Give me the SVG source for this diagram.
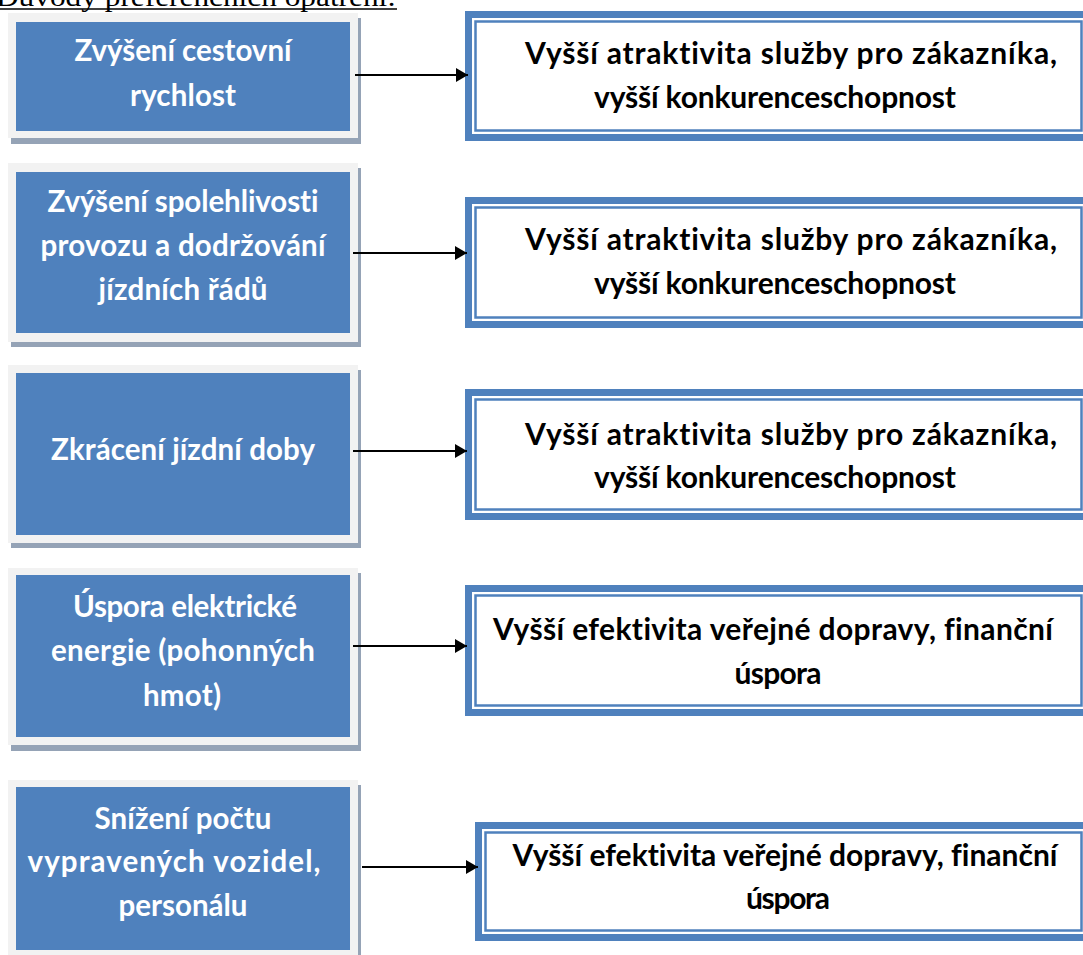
<svg xmlns="http://www.w3.org/2000/svg" width="1083" height="955" viewBox="0 0 1083 955">
<defs>
<style>
.shadow{fill:#95a3b6}
.frame{fill:#f2f2f2}
.blue{fill:#4f81bd}
.lt{font-family:Lato,"Open Sans",sans-serif;font-weight:700;font-size:29.5px;fill:#ffffff;text-anchor:middle;font-variant-ligatures:none}
.rt{font-family:Lato,"Open Sans",sans-serif;font-weight:700;font-size:30px;fill:#000000;text-anchor:middle;font-variant-ligatures:none}
.ro{fill:#ffffff;stroke:#4f81bd;stroke-width:7}
.ri{fill:none;stroke:#4f81bd;stroke-width:2.5}
.conn{stroke:#000;stroke-width:2.2;fill:none}
.title{font-family:"Liberation Serif",serif;font-size:27px;fill:#000}
</style>
<marker id="ah" markerWidth="12" markerHeight="14" refX="12" refY="7" orient="auto" markerUnits="userSpaceOnUse">
<path d="M0,0 L12,7 L0,14 Z" fill="#000"/>
</marker>
</defs>
<rect width="1083" height="955" fill="#fff"/>
<g id="title">
<text class="title" x="-4" y="6" textLength="400" lengthAdjust="spacingAndGlyphs">Důvody preferenčních opatření:</text>
<line x1="0" y1="9" x2="397" y2="9" stroke="#000" stroke-width="1.5"/>
</g>
<g id="cause1">
<rect class="shadow" x="11" y="18" width="350" height="126"/>
<rect class="frame" x="8" y="13" width="350" height="125"/>
<rect class="blue" x="16" y="22" width="334" height="109"/>
<text class="lt" x="183" y="61" textLength="217">Zvýšení cestovní</text>
<text class="lt" x="183" y="106" textLength="106">rychlost</text>
</g>
<g id="cause2">
<rect class="shadow" x="11" y="168" width="350" height="179"/>
<rect class="frame" x="8" y="163" width="350" height="179"/>
<rect class="blue" x="16" y="172" width="334" height="161"/>
<text class="lt" x="183" y="212" textLength="271">Zvýšení spolehlivosti</text>
<text class="lt" x="183" y="256" textLength="285">provozu a dodržování</text>
<text class="lt" x="183" y="300" textLength="169">jízdních řádů</text>
</g>
<g id="cause3">
<rect class="shadow" x="11" y="370" width="350" height="178"/>
<rect class="frame" x="8" y="365" width="350" height="178"/>
<rect class="blue" x="16" y="373" width="334" height="162"/>
<text class="lt" x="183" y="460" textLength="264">Zkrácení jízdní doby</text>
</g>
<g id="cause4">
<rect class="shadow" x="11" y="573" width="350" height="178"/>
<rect class="frame" x="8" y="568" width="350" height="177"/>
<rect class="blue" x="16" y="575" width="334" height="162"/>
<text class="lt" x="185" y="617" textLength="224">Úspora elektrické</text>
<text class="lt" x="183" y="661" textLength="264">energie (pohonných</text>
<text class="lt" x="182" y="706" textLength="78">hmot)</text>
</g>
<g id="cause5">
<rect class="shadow" x="11" y="785" width="350" height="178"/>
<rect class="frame" x="8" y="780" width="350" height="178"/>
<rect class="blue" x="16" y="787" width="334" height="163"/>
<text class="lt" x="183" y="829" textLength="177">Snížení počtu</text>
<text class="lt" x="174" y="872" textLength="293">vypravených vozidel,</text>
<text class="lt" x="183" y="916" textLength="129">personálu</text>
</g>
<g id="effect1">
<rect class="ro" x="468.5" y="14.5" width="620" height="123"/>
<rect class="ri" x="475.5" y="21.5" width="606" height="109"/>
<text class="rt" x="791" y="64" textLength="532">Vyšší atraktivita služby pro zákazníka,</text>
<text class="rt" x="775" y="108" textLength="362">vyšší konkurenceschopnost</text>
</g>
<g id="effect2">
<rect class="ro" x="468.5" y="200.5" width="620" height="124"/>
<rect class="ri" x="475.5" y="207.5" width="606" height="110"/>
<text class="rt" x="791" y="250" textLength="532">Vyšší atraktivita služby pro zákazníka,</text>
<text class="rt" x="775" y="294" textLength="362">vyšší konkurenceschopnost</text>
</g>
<g id="effect3">
<rect class="ro" x="468.5" y="392.5" width="620" height="124"/>
<rect class="ri" x="475.5" y="399.5" width="606" height="110"/>
<text class="rt" x="791" y="445" textLength="532">Vyšší atraktivita služby pro zákazníka,</text>
<text class="rt" x="775" y="488" textLength="362">vyšší konkurenceschopnost</text>
</g>
<g id="effect4">
<rect class="ro" x="468.5" y="588.5" width="620" height="124"/>
<rect class="ri" x="475.5" y="595.5" width="606" height="110"/>
<text class="rt" x="773" y="640" textLength="560">Vyšší efektivita veřejné dopravy, finanční</text>
<text class="rt" x="778" y="684" textLength="87">úspora</text>
</g>
<g id="effect5">
<rect class="ro" x="478.5" y="825.5" width="610" height="112"/>
<rect class="ri" x="485.5" y="832.5" width="596" height="98"/>
<text class="rt" x="785" y="866" textLength="545">Vyšší efektivita veřejné dopravy, finanční</text>
<text class="rt" x="788" y="909" textLength="84">úspora</text>
</g>
<g id="connectors">
<line class="conn" x1="355" y1="75" x2="468" y2="75" marker-end="url(#ah)"/>
<line class="conn" x1="353" y1="253" x2="467" y2="253" marker-end="url(#ah)"/>
<line class="conn" x1="353" y1="451" x2="467" y2="451" marker-end="url(#ah)"/>
<line class="conn" x1="353" y1="646" x2="467" y2="646" marker-end="url(#ah)"/>
<line class="conn" x1="362" y1="867" x2="478" y2="867" marker-end="url(#ah)"/>
</g>
</svg>
